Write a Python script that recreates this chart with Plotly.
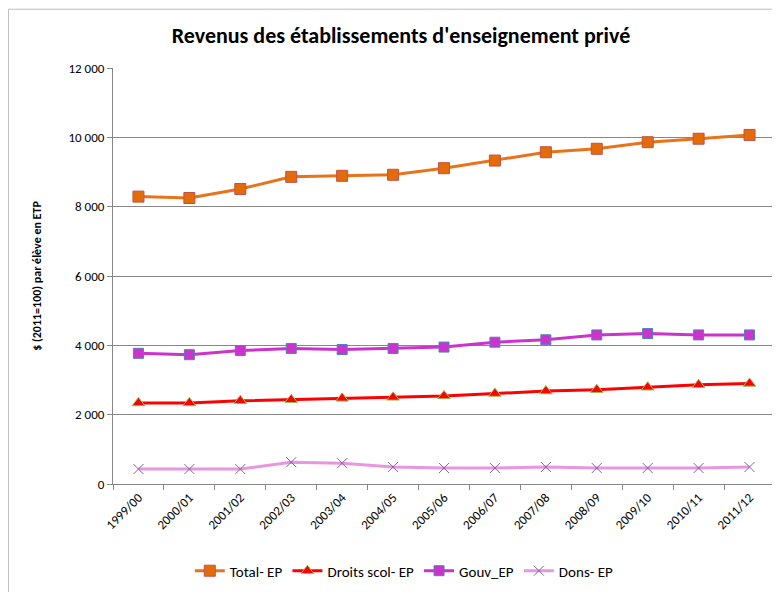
import plotly.graph_objects as go

annees = ["1999/00", "2000/01", "2001/02", "2002/03", "2003/04", "2004/05", "2005/06",
          "2006/07", "2007/08", "2008/09", "2009/10", "2010/11", "2011/12"]
total_ep = [8290, 8250, 8510, 8860, 8890, 8920, 9110, 9330, 9570, 9670, 9860, 9960, 10070]
droits_ep = [2340, 2340, 2400, 2430, 2470, 2500, 2540, 2610, 2680, 2720, 2790, 2860, 2900]
gouv_ep = [3770, 3730, 3850, 3910, 3880, 3910, 3950, 4090, 4160, 4300, 4340, 4300, 4300]
dons_ep = [430, 430, 430, 630, 600, 490, 460, 460, 490, 460, 460, 460, 490]

police = "Calibri, Carlito, 'Liberation Sans Narrow', 'Noto Sans', sans-serif"

fig = go.Figure()

fig.add_trace(go.Scatter(
    x=annees, y=total_ep, name="Total- EP", mode="lines+markers",
    line=dict(color="#E8731A", width=3),
    marker=dict(symbol="square", size=11, color="#E36C09",
                line=dict(color="#C0504D", width=1))
))
fig.add_trace(go.Scatter(
    x=annees, y=droits_ep, name="Droits scol- EP", mode="lines+markers",
    line=dict(color="#FF0000", width=3),
    marker=dict(symbol="triangle-up", size=11, color="#FF0000",
                line=dict(color="#9BBB59", width=1))
))
fig.add_trace(go.Scatter(
    x=annees, y=gouv_ep, name="Gouv_EP", mode="lines+markers",
    line=dict(color="#CC33CC", width=3),
    marker=dict(symbol="square", size=10, color="#CC33CC",
                line=dict(color="#4F81BD", width=1))
))
fig.add_trace(go.Scatter(
    x=annees, y=dons_ep, name="Dons- EP", mode="lines+markers",
    line=dict(color="#E896E0", width=3),
    marker=dict(symbol="x-thin", size=10, color="#8064A2",
                line=dict(color="#8064A2", width=1))
))

# cadre du graphique
fig.add_shape(type="rect", xref="paper", yref="paper",
              x0=-0.1578, x1=1.2, y0=-0.5, y1=1.1413,
              line=dict(color="#BFBFBF", width=1), layer="below")

fig.update_layout(
    width=772, height=584,
    margin=dict(l=105, r=5, t=60, b=103),
    paper_bgcolor="white", plot_bgcolor="white",
    separators=", ",
    font=dict(family=police, size=12, color="black"),
    title=dict(text="<b>Revenus des établissements d'enseignement privé</b>",
               x=0.509, xanchor="center", y=0.954, yanchor="middle",
               font=dict(size=22, family=police)),
    showlegend=True,
    legend=dict(orientation="h", x=0.44, xanchor="center", y=-0.209, yanchor="middle",
                font=dict(size=15), itemwidth=30, tracegroupgap=0),
    xaxis=dict(
        type="category", range=[-0.5, 12.5], tickangle=-45,
        showline=True, linecolor="#878787", linewidth=1,
        ticks="outside", tickson="boundaries", ticklen=5, tickcolor="#878787",
        showgrid=False, tickfont=dict(size=13)
    ),
    yaxis=dict(
        range=[0, 12000], dtick=2000, tickformat=",d",
        showline=True, linecolor="#878787", linewidth=1,
        ticks="outside", ticklen=5, tickcolor="#878787",
        showgrid=True, gridcolor="#878787", gridwidth=1,
        zeroline=False, tickfont=dict(size=13),
        title=dict(text="<b>$ (2011=100) par élève en ETP</b>", standoff=24,
                   font=dict(size=12))
    ),
)

fig.write_html("out.html")
